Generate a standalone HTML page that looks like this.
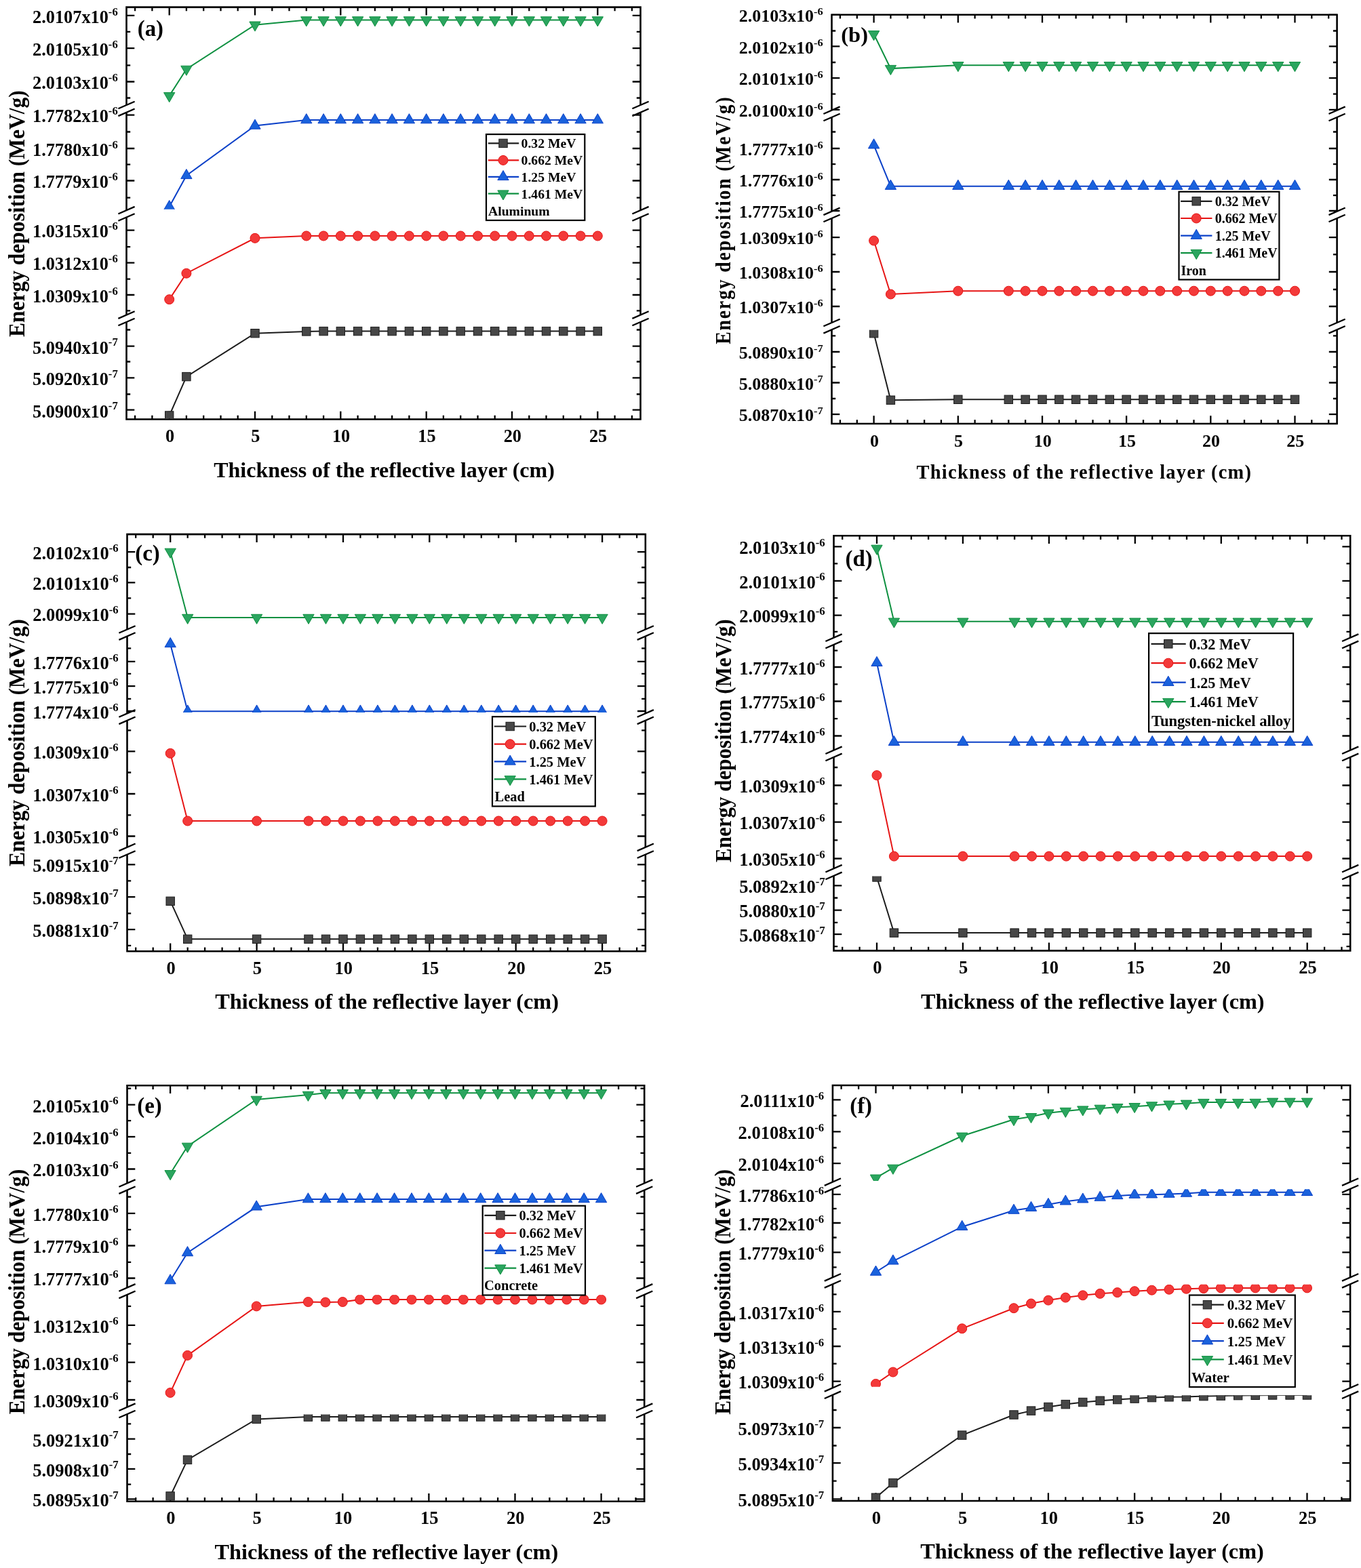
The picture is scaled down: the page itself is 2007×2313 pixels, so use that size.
<!DOCTYPE html>
<html lang="en"><head><meta charset="utf-8"><title>Energy deposition vs. thickness of the reflective layer</title>
<style>
html,body{margin:0;padding:0;background:#fff}
body{width:2007px;height:2313px;overflow:hidden}
svg{display:block;font-family:"Liberation Serif",serif;font-weight:bold;fill:#000}
</style></head><body>
<svg width="2007" height="2313" viewBox="0 0 2007 2313">
<defs>
<rect id="mk" x="-6.2" y="-6.2" width="12.4" height="12.4" stroke-width="1"/>
<circle id="mr" r="7" stroke-width="1"/>
<path id="mb" d="M0 -9.4L8.15 4.7H-8.15Z" stroke-width="1"/>
<path id="mg" d="M0 9.4L8.15 -4.7H-8.15Z" stroke-width="1"/>
</defs>
<rect width="2007" height="2313" fill="#fff"/>
<g id="panel-a">
<defs>
<clipPath id="ca0"><rect x="186.5" y="11.7" width="758" height="141.8"/></clipPath>
<clipPath id="ca1"><rect x="186.5" y="166.3" width="758" height="142.4"/></clipPath>
<clipPath id="ca2"><rect x="186.5" y="321" width="758" height="142.1"/></clipPath>
<clipPath id="ca3"><rect x="186.5" y="475.5" width="758" height="141.9"/></clipPath>
</defs>
<path d="M186.5 9.3V155M186.5 165.8V310.2M186.5 320.5V464.6M186.5 475V619.8M944.5 9.3V155M944.5 165.8V310.2M944.5 320.5V464.6M944.5 475V619.8M186.5 10.6H944.5M186.5 618.5H944.5" fill="none" stroke="#000" stroke-width="2.6"/>
<path d="M186.5 22.9h11.8M944.5 22.9h-11.8M186.5 71.1h11.8M944.5 71.1h-11.8M186.5 120.5h11.8M944.5 120.5h-11.8M186.5 169.6h11.8M944.5 169.6h-11.8M186.5 219h11.8M944.5 219h-11.8M186.5 266.5h11.8M944.5 266.5h-11.8M186.5 339.6h11.8M944.5 339.6h-11.8M186.5 387.6h11.8M944.5 387.6h-11.8M186.5 435h11.8M944.5 435h-11.8M186.5 510.7h11.8M944.5 510.7h-11.8M186.5 557.3h11.8M944.5 557.3h-11.8M186.5 604.7h11.8M944.5 604.7h-11.8M186.5 46.9h5.7M944.5 46.9h-5.7M186.5 96.3h5.7M944.5 96.3h-5.7M186.5 144.5h5.7M944.5 144.5h-5.7M186.5 194.5h5.7M944.5 194.5h-5.7M186.5 242.7h5.7M944.5 242.7h-5.7M186.5 291.6h5.7M944.5 291.6h-5.7M186.5 364.2h5.7M944.5 364.2h-5.7M186.5 411.6h5.7M944.5 411.6h-5.7M186.5 458.4h5.7M944.5 458.4h-5.7M186.5 486.5h5.7M944.5 486.5h-5.7M186.5 533.5h5.7M944.5 533.5h-5.7M186.5 581.5h5.7M944.5 581.5h-5.7M199.1 618.5v-5.7M199.1 10.6v5.7M224.4 618.5v-5.7M224.4 10.6v5.7M249.7 618.5v-11.8M249.7 10.6v11.8M274.9 618.5v-5.7M274.9 10.6v5.7M300.2 618.5v-5.7M300.2 10.6v5.7M325.5 618.5v-5.7M325.5 10.6v5.7M350.7 618.5v-5.7M350.7 10.6v5.7M376 618.5v-11.8M376 10.6v11.8M401.3 618.5v-5.7M401.3 10.6v5.7M426.5 618.5v-5.7M426.5 10.6v5.7M451.8 618.5v-5.7M451.8 10.6v5.7M477.1 618.5v-5.7M477.1 10.6v5.7M502.3 618.5v-11.8M502.3 10.6v11.8M527.6 618.5v-5.7M527.6 10.6v5.7M552.9 618.5v-5.7M552.9 10.6v5.7M578.1 618.5v-5.7M578.1 10.6v5.7M603.4 618.5v-5.7M603.4 10.6v5.7M628.7 618.5v-11.8M628.7 10.6v11.8M653.9 618.5v-5.7M653.9 10.6v5.7M679.2 618.5v-5.7M679.2 10.6v5.7M704.5 618.5v-5.7M704.5 10.6v5.7M729.7 618.5v-5.7M729.7 10.6v5.7M755 618.5v-11.8M755 10.6v11.8M780.3 618.5v-5.7M780.3 10.6v5.7M805.5 618.5v-5.7M805.5 10.6v5.7M830.8 618.5v-5.7M830.8 10.6v5.7M856.1 618.5v-5.7M856.1 10.6v5.7M881.3 618.5v-11.8M881.3 10.6v11.8M906.6 618.5v-5.7M906.6 10.6v5.7M931.9 618.5v-5.7M931.9 10.6v5.7M174.4 160.3L198.6 149.7M932.4 160.3L956.6 149.7M174.4 171.1L198.6 160.5M932.4 171.1L956.6 160.5M174.4 315.5L198.6 304.9M932.4 315.5L956.6 304.9M174.4 325.8L198.6 315.2M932.4 325.8L956.6 315.2M174.4 469.9L198.6 459.3M932.4 469.9L956.6 459.3M174.4 480.3L198.6 469.7M932.4 480.3L956.6 469.7" fill="none" stroke="#000" stroke-width="2.3"/>
<g clip-path="url(#ca0)">
<polyline points="249.7,141.3 274.9,101.9 376,36.7 451.8,29.5 477.1,29.5 502.3,29.5 527.6,29.5 552.9,29.5 578.1,29.5 603.4,29.5 628.7,29.5 653.9,29.5 679.2,29.5 704.5,29.5 729.7,29.5 755,29.5 780.3,29.5 805.5,29.5 830.8,29.5 856.1,29.5 881.3,29.5" fill="none" stroke="#0e9040" stroke-width="2"/>
<g fill="#2ba55f" stroke="#0e9040">
<use href="#mg" x="249.7" y="141.3"/>
<use href="#mg" x="274.9" y="101.9"/>
<use href="#mg" x="376" y="36.7"/>
<use href="#mg" x="451.8" y="29.5"/>
<use href="#mg" x="477.1" y="29.5"/>
<use href="#mg" x="502.3" y="29.5"/>
<use href="#mg" x="527.6" y="29.5"/>
<use href="#mg" x="552.9" y="29.5"/>
<use href="#mg" x="578.1" y="29.5"/>
<use href="#mg" x="603.4" y="29.5"/>
<use href="#mg" x="628.7" y="29.5"/>
<use href="#mg" x="653.9" y="29.5"/>
<use href="#mg" x="679.2" y="29.5"/>
<use href="#mg" x="704.5" y="29.5"/>
<use href="#mg" x="729.7" y="29.5"/>
<use href="#mg" x="755" y="29.5"/>
<use href="#mg" x="780.3" y="29.5"/>
<use href="#mg" x="805.5" y="29.5"/>
<use href="#mg" x="830.8" y="29.5"/>
<use href="#mg" x="856.1" y="29.5"/>
<use href="#mg" x="881.3" y="29.5"/>
</g></g>
<g clip-path="url(#ca1)">
<polyline points="249.7,304.9 274.9,258.9 376,185.5 451.8,177.1 477.1,177.1 502.3,177.1 527.6,177.1 552.9,177.1 578.1,177.1 603.4,177.1 628.7,177.1 653.9,177.1 679.2,177.1 704.5,177.1 729.7,177.1 755,177.1 780.3,177.1 805.5,177.1 830.8,177.1 856.1,177.1 881.3,177.1" fill="none" stroke="#0b40c8" stroke-width="2"/>
<g fill="#1a62dc" stroke="#0b40c8">
<use href="#mb" x="249.7" y="304.9"/>
<use href="#mb" x="274.9" y="258.9"/>
<use href="#mb" x="376" y="185.5"/>
<use href="#mb" x="451.8" y="177.1"/>
<use href="#mb" x="477.1" y="177.1"/>
<use href="#mb" x="502.3" y="177.1"/>
<use href="#mb" x="527.6" y="177.1"/>
<use href="#mb" x="552.9" y="177.1"/>
<use href="#mb" x="578.1" y="177.1"/>
<use href="#mb" x="603.4" y="177.1"/>
<use href="#mb" x="628.7" y="177.1"/>
<use href="#mb" x="653.9" y="177.1"/>
<use href="#mb" x="679.2" y="177.1"/>
<use href="#mb" x="704.5" y="177.1"/>
<use href="#mb" x="729.7" y="177.1"/>
<use href="#mb" x="755" y="177.1"/>
<use href="#mb" x="780.3" y="177.1"/>
<use href="#mb" x="805.5" y="177.1"/>
<use href="#mb" x="830.8" y="177.1"/>
<use href="#mb" x="856.1" y="177.1"/>
<use href="#mb" x="881.3" y="177.1"/>
</g></g>
<g clip-path="url(#ca2)">
<polyline points="249.7,441.7 274.9,403.2 376,351.3 451.8,348 477.1,348 502.3,348 527.6,348 552.9,348 578.1,348 603.4,348 628.7,348 653.9,348 679.2,348 704.5,348 729.7,348 755,348 780.3,348 805.5,348 830.8,348 856.1,348 881.3,348" fill="none" stroke="#e61414" stroke-width="2"/>
<g fill="#f33a3a" stroke="#e61414">
<use href="#mr" x="249.7" y="441.7"/>
<use href="#mr" x="274.9" y="403.2"/>
<use href="#mr" x="376" y="351.3"/>
<use href="#mr" x="451.8" y="348"/>
<use href="#mr" x="477.1" y="348"/>
<use href="#mr" x="502.3" y="348"/>
<use href="#mr" x="527.6" y="348"/>
<use href="#mr" x="552.9" y="348"/>
<use href="#mr" x="578.1" y="348"/>
<use href="#mr" x="603.4" y="348"/>
<use href="#mr" x="628.7" y="348"/>
<use href="#mr" x="653.9" y="348"/>
<use href="#mr" x="679.2" y="348"/>
<use href="#mr" x="704.5" y="348"/>
<use href="#mr" x="729.7" y="348"/>
<use href="#mr" x="755" y="348"/>
<use href="#mr" x="780.3" y="348"/>
<use href="#mr" x="805.5" y="348"/>
<use href="#mr" x="830.8" y="348"/>
<use href="#mr" x="856.1" y="348"/>
<use href="#mr" x="881.3" y="348"/>
</g></g>
<g clip-path="url(#ca3)">
<polyline points="249.7,613 274.9,555.6 376,491.7 451.8,488.9 477.1,488.6 502.3,488.6 527.6,488.6 552.9,488.6 578.1,488.6 603.4,488.6 628.7,488.6 653.9,488.6 679.2,488.6 704.5,488.6 729.7,488.6 755,488.6 780.3,488.6 805.5,488.6 830.8,488.6 856.1,488.6 881.3,488.6" fill="none" stroke="#1c1c1c" stroke-width="2"/>
<g fill="#474747" stroke="#1c1c1c">
<use href="#mk" x="249.7" y="613"/>
<use href="#mk" x="274.9" y="555.6"/>
<use href="#mk" x="376" y="491.7"/>
<use href="#mk" x="451.8" y="488.9"/>
<use href="#mk" x="477.1" y="488.6"/>
<use href="#mk" x="502.3" y="488.6"/>
<use href="#mk" x="527.6" y="488.6"/>
<use href="#mk" x="552.9" y="488.6"/>
<use href="#mk" x="578.1" y="488.6"/>
<use href="#mk" x="603.4" y="488.6"/>
<use href="#mk" x="628.7" y="488.6"/>
<use href="#mk" x="653.9" y="488.6"/>
<use href="#mk" x="679.2" y="488.6"/>
<use href="#mk" x="704.5" y="488.6"/>
<use href="#mk" x="729.7" y="488.6"/>
<use href="#mk" x="755" y="488.6"/>
<use href="#mk" x="780.3" y="488.6"/>
<use href="#mk" x="805.5" y="488.6"/>
<use href="#mk" x="830.8" y="488.6"/>
<use href="#mk" x="856.1" y="488.6"/>
<use href="#mk" x="881.3" y="488.6"/>
</g></g>
<g font-size="26.3" text-anchor="end">
<text x="173.7" y="33.7">2.0107x10<tspan font-size="16.6" dy="-11.2">-6</tspan></text>
<text x="173.7" y="81.9">2.0105x10<tspan font-size="16.6" dy="-11.2">-6</tspan></text>
<text x="173.7" y="131.3">2.0103x10<tspan font-size="16.6" dy="-11.2">-6</tspan></text>
<text x="173.7" y="180.4">1.7782x10<tspan font-size="16.6" dy="-11.2">-6</tspan></text>
<text x="173.7" y="229.8">1.7780x10<tspan font-size="16.6" dy="-11.2">-6</tspan></text>
<text x="173.7" y="277.3">1.7779x10<tspan font-size="16.6" dy="-11.2">-6</tspan></text>
<text x="173.7" y="350.4">1.0315x10<tspan font-size="16.6" dy="-11.2">-6</tspan></text>
<text x="173.7" y="398.4">1.0312x10<tspan font-size="16.6" dy="-11.2">-6</tspan></text>
<text x="173.7" y="445.8">1.0309x10<tspan font-size="16.6" dy="-11.2">-6</tspan></text>
<text x="173.7" y="521.5">5.0940x10<tspan font-size="16.6" dy="-11.2">-7</tspan></text>
<text x="173.7" y="568.1">5.0920x10<tspan font-size="16.6" dy="-11.2">-7</tspan></text>
<text x="173.7" y="615.5">5.0900x10<tspan font-size="16.6" dy="-11.2">-7</tspan></text>
</g>
<g font-size="26.3" text-anchor="middle">
<text x="250.5" y="652">0</text>
<text x="376.8" y="652">5</text>
<text x="503.1" y="652">10</text>
<text x="629.5" y="652">15</text>
<text x="755.8" y="652">20</text>
<text x="882.1" y="652">25</text>
</g>
<text x="566.5" y="703.7" font-size="32.0" text-anchor="middle">Thickness of the reflective layer (cm)</text>
<text transform="translate(35.6 315.2) rotate(-90) scale(0.963 1)" font-size="32.7" text-anchor="middle">Energy deposition (MeV/g)</text>
<text x="202.7" y="53.3" font-size="32.9">(a)</text>
<rect x="717" y="198.1" width="145.3" height="126.9" fill="#fff" stroke="#000" stroke-width="2.2"/>
<g font-size="19.67">
<path d="M719.8 211.4H765.2" stroke="#1c1c1c" stroke-width="2.2"/><use href="#mk" x="742" y="211.4" fill="#474747" stroke="#1c1c1c"/>
<text x="768.6" y="218.4">0.32 MeV</text>
<path d="M719.8 236.4H765.2" stroke="#e61414" stroke-width="2.2"/><use href="#mr" x="742" y="236.4" fill="#f33a3a" stroke="#e61414"/>
<text x="768.6" y="243.4">0.662 MeV</text>
<path d="M719.8 260.9H765.2" stroke="#0b40c8" stroke-width="2.2"/><use href="#mb" x="742" y="260.9" fill="#1a62dc" stroke="#0b40c8"/>
<text x="768.6" y="267.9">1.25 MeV</text>
<path d="M719.8 285.6H765.2" stroke="#0e9040" stroke-width="2.2"/><use href="#mg" x="742" y="285.6" fill="#2ba55f" stroke="#0e9040"/>
<text x="768.6" y="292.6">1.461 MeV</text>
<text x="720" y="317.5" font-size="19.67">Aluminum</text>
</g>
</g>
<g id="panel-b">
<defs>
<clipPath id="cb0"><rect x="1226.5" y="22.9" width="745.1" height="138.3"/></clipPath>
<clipPath id="cb1"><rect x="1226.5" y="173.5" width="745.1" height="136.8"/></clipPath>
<clipPath id="cb2"><rect x="1226.5" y="322.5" width="745.1" height="152"/></clipPath>
<clipPath id="cb3"><rect x="1226.5" y="486.8" width="745.1" height="137.1"/></clipPath>
</defs>
<path d="M1226.5 20.5V162.7M1226.5 173V311.8M1226.5 322V476M1226.5 486.3V626.3M1971.6 20.5V162.7M1971.6 173V311.8M1971.6 322V476M1971.6 486.3V626.3M1226.5 21.8H1971.6M1226.5 625H1971.6" fill="none" stroke="#000" stroke-width="2.6"/>
<path d="M1226.5 21.8h11.8M1971.6 21.8h-11.8M1226.5 68.4h11.8M1971.6 68.4h-11.8M1226.5 115.2h11.8M1971.6 115.2h-11.8M1226.5 161.8h11.8M1971.6 161.8h-11.8M1226.5 219h11.8M1971.6 219h-11.8M1226.5 265h11.8M1971.6 265h-11.8M1226.5 311h11.8M1971.6 311h-11.8M1226.5 350.2h11.8M1971.6 350.2h-11.8M1226.5 401h11.8M1971.6 401h-11.8M1226.5 452h11.8M1971.6 452h-11.8M1226.5 519h11.8M1971.6 519h-11.8M1226.5 564.5h11.8M1971.6 564.5h-11.8M1226.5 611.1h11.8M1971.6 611.1h-11.8M1226.5 45.5h5.7M1971.6 45.5h-5.7M1226.5 92h5.7M1971.6 92h-5.7M1226.5 138.7h5.7M1971.6 138.7h-5.7M1226.5 194.5h5.7M1971.6 194.5h-5.7M1226.5 242.2h5.7M1971.6 242.2h-5.7M1226.5 288.2h5.7M1971.6 288.2h-5.7M1226.5 375.3h5.7M1971.6 375.3h-5.7M1226.5 427h5.7M1971.6 427h-5.7M1226.5 495.3h5.7M1971.6 495.3h-5.7M1226.5 541.3h5.7M1971.6 541.3h-5.7M1226.5 588h5.7M1971.6 588h-5.7M1238.9 625v-5.7M1238.9 21.8v5.7M1263.8 625v-5.7M1263.8 21.8v5.7M1288.6 625v-11.8M1288.6 21.8v11.8M1313.4 625v-5.7M1313.4 21.8v5.7M1338.3 625v-5.7M1338.3 21.8v5.7M1363.1 625v-5.7M1363.1 21.8v5.7M1387.9 625v-5.7M1387.9 21.8v5.7M1412.8 625v-11.8M1412.8 21.8v11.8M1437.6 625v-5.7M1437.6 21.8v5.7M1462.4 625v-5.7M1462.4 21.8v5.7M1487.3 625v-5.7M1487.3 21.8v5.7M1512.1 625v-5.7M1512.1 21.8v5.7M1537 625v-11.8M1537 21.8v11.8M1561.8 625v-5.7M1561.8 21.8v5.7M1586.6 625v-5.7M1586.6 21.8v5.7M1611.5 625v-5.7M1611.5 21.8v5.7M1636.3 625v-5.7M1636.3 21.8v5.7M1661.1 625v-11.8M1661.1 21.8v11.8M1686 625v-5.7M1686 21.8v5.7M1710.8 625v-5.7M1710.8 21.8v5.7M1735.7 625v-5.7M1735.7 21.8v5.7M1760.5 625v-5.7M1760.5 21.8v5.7M1785.3 625v-11.8M1785.3 21.8v11.8M1810.2 625v-5.7M1810.2 21.8v5.7M1835 625v-5.7M1835 21.8v5.7M1859.8 625v-5.7M1859.8 21.8v5.7M1884.7 625v-5.7M1884.7 21.8v5.7M1909.5 625v-11.8M1909.5 21.8v11.8M1934.3 625v-5.7M1934.3 21.8v5.7M1959.2 625v-5.7M1959.2 21.8v5.7M1214.4 168L1238.6 157.4M1959.5 168L1983.7 157.4M1214.4 178.3L1238.6 167.7M1959.5 178.3L1983.7 167.7M1214.4 317.1L1238.6 306.5M1959.5 317.1L1983.7 306.5M1214.4 327.3L1238.6 316.7M1959.5 327.3L1983.7 316.7M1214.4 481.3L1238.6 470.7M1959.5 481.3L1983.7 470.7M1214.4 491.6L1238.6 481M1959.5 491.6L1983.7 481" fill="none" stroke="#000" stroke-width="2.3"/>
<g clip-path="url(#cb0)">
<polyline points="1288.6,50.3 1313.4,101.1 1412.8,96.3 1487.3,96.3 1512.1,96.3 1537,96.3 1561.8,96.3 1586.6,96.3 1611.5,96.3 1636.3,96.3 1661.1,96.3 1686,96.3 1710.8,96.3 1735.7,96.3 1760.5,96.3 1785.3,96.3 1810.2,96.3 1835,96.3 1859.8,96.3 1884.7,96.3 1909.5,96.3" fill="none" stroke="#0e9040" stroke-width="2"/>
<g fill="#2ba55f" stroke="#0e9040">
<use href="#mg" x="1288.6" y="50.3"/>
<use href="#mg" x="1313.4" y="101.1"/>
<use href="#mg" x="1412.8" y="96.3"/>
<use href="#mg" x="1487.3" y="96.3"/>
<use href="#mg" x="1512.1" y="96.3"/>
<use href="#mg" x="1537" y="96.3"/>
<use href="#mg" x="1561.8" y="96.3"/>
<use href="#mg" x="1586.6" y="96.3"/>
<use href="#mg" x="1611.5" y="96.3"/>
<use href="#mg" x="1636.3" y="96.3"/>
<use href="#mg" x="1661.1" y="96.3"/>
<use href="#mg" x="1686" y="96.3"/>
<use href="#mg" x="1710.8" y="96.3"/>
<use href="#mg" x="1735.7" y="96.3"/>
<use href="#mg" x="1760.5" y="96.3"/>
<use href="#mg" x="1785.3" y="96.3"/>
<use href="#mg" x="1810.2" y="96.3"/>
<use href="#mg" x="1835" y="96.3"/>
<use href="#mg" x="1859.8" y="96.3"/>
<use href="#mg" x="1884.7" y="96.3"/>
<use href="#mg" x="1909.5" y="96.3"/>
</g></g>
<g clip-path="url(#cb1)">
<polyline points="1288.6,214.2 1313.4,274.7 1412.8,274.7 1487.3,274.7 1512.1,274.7 1537,274.7 1561.8,274.7 1586.6,274.7 1611.5,274.7 1636.3,274.7 1661.1,274.7 1686,274.7 1710.8,274.7 1735.7,274.7 1760.5,274.7 1785.3,274.7 1810.2,274.7 1835,274.7 1859.8,274.7 1884.7,274.7 1909.5,274.7" fill="none" stroke="#0b40c8" stroke-width="2"/>
<g fill="#1a62dc" stroke="#0b40c8">
<use href="#mb" x="1288.6" y="214.2"/>
<use href="#mb" x="1313.4" y="274.7"/>
<use href="#mb" x="1412.8" y="274.7"/>
<use href="#mb" x="1487.3" y="274.7"/>
<use href="#mb" x="1512.1" y="274.7"/>
<use href="#mb" x="1537" y="274.7"/>
<use href="#mb" x="1561.8" y="274.7"/>
<use href="#mb" x="1586.6" y="274.7"/>
<use href="#mb" x="1611.5" y="274.7"/>
<use href="#mb" x="1636.3" y="274.7"/>
<use href="#mb" x="1661.1" y="274.7"/>
<use href="#mb" x="1686" y="274.7"/>
<use href="#mb" x="1710.8" y="274.7"/>
<use href="#mb" x="1735.7" y="274.7"/>
<use href="#mb" x="1760.5" y="274.7"/>
<use href="#mb" x="1785.3" y="274.7"/>
<use href="#mb" x="1810.2" y="274.7"/>
<use href="#mb" x="1835" y="274.7"/>
<use href="#mb" x="1859.8" y="274.7"/>
<use href="#mb" x="1884.7" y="274.7"/>
<use href="#mb" x="1909.5" y="274.7"/>
</g></g>
<g clip-path="url(#cb2)">
<polyline points="1288.6,355 1313.4,434 1412.8,429.2 1487.3,429.2 1512.1,429.2 1537,429.2 1561.8,429.2 1586.6,429.2 1611.5,429.2 1636.3,429.2 1661.1,429.2 1686,429.2 1710.8,429.2 1735.7,429.2 1760.5,429.2 1785.3,429.2 1810.2,429.2 1835,429.2 1859.8,429.2 1884.7,429.2 1909.5,429.2" fill="none" stroke="#e61414" stroke-width="2"/>
<g fill="#f33a3a" stroke="#e61414">
<use href="#mr" x="1288.6" y="355"/>
<use href="#mr" x="1313.4" y="434"/>
<use href="#mr" x="1412.8" y="429.2"/>
<use href="#mr" x="1487.3" y="429.2"/>
<use href="#mr" x="1512.1" y="429.2"/>
<use href="#mr" x="1537" y="429.2"/>
<use href="#mr" x="1561.8" y="429.2"/>
<use href="#mr" x="1586.6" y="429.2"/>
<use href="#mr" x="1611.5" y="429.2"/>
<use href="#mr" x="1636.3" y="429.2"/>
<use href="#mr" x="1661.1" y="429.2"/>
<use href="#mr" x="1686" y="429.2"/>
<use href="#mr" x="1710.8" y="429.2"/>
<use href="#mr" x="1735.7" y="429.2"/>
<use href="#mr" x="1760.5" y="429.2"/>
<use href="#mr" x="1785.3" y="429.2"/>
<use href="#mr" x="1810.2" y="429.2"/>
<use href="#mr" x="1835" y="429.2"/>
<use href="#mr" x="1859.8" y="429.2"/>
<use href="#mr" x="1884.7" y="429.2"/>
<use href="#mr" x="1909.5" y="429.2"/>
</g></g>
<g clip-path="url(#cb3)">
<polyline points="1288.6,491.7 1313.4,590.2 1412.8,589.3 1487.3,589.3 1512.1,589.3 1537,589.3 1561.8,589.3 1586.6,589.3 1611.5,589.3 1636.3,589.3 1661.1,589.3 1686,589.3 1710.8,589.3 1735.7,589.3 1760.5,589.3 1785.3,589.3 1810.2,589.3 1835,589.3 1859.8,589.3 1884.7,589.3 1909.5,589.3" fill="none" stroke="#1c1c1c" stroke-width="2"/>
<g fill="#474747" stroke="#1c1c1c">
<use href="#mk" x="1288.6" y="491.7"/>
<use href="#mk" x="1313.4" y="590.2"/>
<use href="#mk" x="1412.8" y="589.3"/>
<use href="#mk" x="1487.3" y="589.3"/>
<use href="#mk" x="1512.1" y="589.3"/>
<use href="#mk" x="1537" y="589.3"/>
<use href="#mk" x="1561.8" y="589.3"/>
<use href="#mk" x="1586.6" y="589.3"/>
<use href="#mk" x="1611.5" y="589.3"/>
<use href="#mk" x="1636.3" y="589.3"/>
<use href="#mk" x="1661.1" y="589.3"/>
<use href="#mk" x="1686" y="589.3"/>
<use href="#mk" x="1710.8" y="589.3"/>
<use href="#mk" x="1735.7" y="589.3"/>
<use href="#mk" x="1760.5" y="589.3"/>
<use href="#mk" x="1785.3" y="589.3"/>
<use href="#mk" x="1810.2" y="589.3"/>
<use href="#mk" x="1835" y="589.3"/>
<use href="#mk" x="1859.8" y="589.3"/>
<use href="#mk" x="1884.7" y="589.3"/>
<use href="#mk" x="1909.5" y="589.3"/>
</g></g>
<g font-size="25.96" text-anchor="end">
<text transform="translate(1213.7 32) scale(1 0.93)">2.0103x10<tspan font-size="16.38" dy="-11.2">-6</tspan></text>
<text transform="translate(1213.7 78.6) scale(1 0.93)">2.0102x10<tspan font-size="16.38" dy="-11.2">-6</tspan></text>
<text transform="translate(1213.7 125.4) scale(1 0.93)">2.0101x10<tspan font-size="16.38" dy="-11.2">-6</tspan></text>
<text transform="translate(1213.7 172) scale(1 0.93)">2.0100x10<tspan font-size="16.38" dy="-11.2">-6</tspan></text>
<text transform="translate(1213.7 229.2) scale(1 0.93)">1.7777x10<tspan font-size="16.38" dy="-11.2">-6</tspan></text>
<text transform="translate(1213.7 275.2) scale(1 0.93)">1.7776x10<tspan font-size="16.38" dy="-11.2">-6</tspan></text>
<text transform="translate(1213.7 321.2) scale(1 0.93)">1.7775x10<tspan font-size="16.38" dy="-11.2">-6</tspan></text>
<text transform="translate(1213.7 360.4) scale(1 0.93)">1.0309x10<tspan font-size="16.38" dy="-11.2">-6</tspan></text>
<text transform="translate(1213.7 411.2) scale(1 0.93)">1.0308x10<tspan font-size="16.38" dy="-11.2">-6</tspan></text>
<text transform="translate(1213.7 462.2) scale(1 0.93)">1.0307x10<tspan font-size="16.38" dy="-11.2">-6</tspan></text>
<text transform="translate(1213.7 529.2) scale(1 0.93)">5.0890x10<tspan font-size="16.38" dy="-11.2">-7</tspan></text>
<text transform="translate(1213.7 574.7) scale(1 0.93)">5.0880x10<tspan font-size="16.38" dy="-11.2">-7</tspan></text>
<text transform="translate(1213.7 621.3) scale(1 0.93)">5.0870x10<tspan font-size="16.38" dy="-11.2">-7</tspan></text>
</g>
<g font-size="25.96" text-anchor="middle">
<text x="1289.4" y="658.5">0</text>
<text x="1413.6" y="658.5">5</text>
<text x="1537.8" y="658.5">10</text>
<text x="1661.9" y="658.5">15</text>
<text x="1786.1" y="658.5">20</text>
<text x="1910.3" y="658.5">25</text>
</g>
<text x="1598.9" y="705.5" font-size="28.4" letter-spacing="1.28" text-anchor="middle">Thickness of the reflective layer (cm)</text>
<text transform="translate(1076.9 324.6) rotate(-90) scale(0.85 1)" font-size="32.5" letter-spacing="2.23" text-anchor="middle">Energy deposition (MeV/g)</text>
<text x="1240.3" y="62.1" font-size="32.5">(b)</text>
<rect x="1738.5" y="282.8" width="147.9" height="129.7" fill="#fff" stroke="#000" stroke-width="2.2"/>
<g font-size="19.93">
<path d="M1741.1 296.8H1787.4" stroke="#1c1c1c" stroke-width="2.2"/><use href="#mk" x="1764.2" y="296.8" fill="#474747" stroke="#1c1c1c"/>
<text x="1791.7" y="303.9">0.32 MeV</text>
<path d="M1741.1 322H1787.4" stroke="#e61414" stroke-width="2.2"/><use href="#mr" x="1764.2" y="322" fill="#f33a3a" stroke="#e61414"/>
<text x="1791.7" y="329.1">0.662 MeV</text>
<path d="M1741.1 347.7H1787.4" stroke="#0b40c8" stroke-width="2.2"/><use href="#mb" x="1764.2" y="347.7" fill="#1a62dc" stroke="#0b40c8"/>
<text x="1791.7" y="354.8">1.25 MeV</text>
<path d="M1741.1 373.1H1787.4" stroke="#0e9040" stroke-width="2.2"/><use href="#mg" x="1764.2" y="373.1" fill="#2ba55f" stroke="#0e9040"/>
<text x="1791.7" y="380.2">1.461 MeV</text>
<text x="1741.5" y="405.6" font-size="19.93">Iron</text>
</g>
</g>
<g id="panel-c">
<defs>
<clipPath id="cc0"><rect x="187.5" y="789.2" width="764.3" height="137.8"/></clipPath>
<clipPath id="cc1"><rect x="187.5" y="939.1" width="764.3" height="111.8"/></clipPath>
<clipPath id="cc2"><rect x="187.5" y="1063.3" width="764.3" height="185"/></clipPath>
<clipPath id="cc3"><rect x="187.5" y="1261" width="764.3" height="141.1"/></clipPath>
</defs>
<path d="M187.5 786.8V928.5M187.5 938.6V1052.4M187.5 1062.8V1249.8M187.5 1260.5V1404.5M951.8 786.8V928.5M951.8 938.6V1052.4M951.8 1062.8V1249.8M951.8 1260.5V1404.5M187.5 788.1H951.8M187.5 1403.2H951.8" fill="none" stroke="#000" stroke-width="2.6"/>
<path d="M187.5 814.1h11.8M951.8 814.1h-11.8M187.5 859.3h11.8M951.8 859.3h-11.8M187.5 905.6h11.8M951.8 905.6h-11.8M187.5 975.9h11.8M951.8 975.9h-11.8M187.5 1012.2h11.8M951.8 1012.2h-11.8M187.5 1049h11.8M951.8 1049h-11.8M187.5 1108.3h11.8M951.8 1108.3h-11.8M187.5 1171h11.8M951.8 1171h-11.8M187.5 1233.5h11.8M951.8 1233.5h-11.8M187.5 1275.4h11.8M951.8 1275.4h-11.8M187.5 1323.1h11.8M951.8 1323.1h-11.8M187.5 1371.1h11.8M951.8 1371.1h-11.8M187.5 837h5.7M951.8 837h-5.7M187.5 882.4h5.7M951.8 882.4h-5.7M187.5 956.4h5.7M951.8 956.4h-5.7M187.5 993.8h5.7M951.8 993.8h-5.7M187.5 1030.9h5.7M951.8 1030.9h-5.7M187.5 1077.3h5.7M951.8 1077.3h-5.7M187.5 1139.5h5.7M951.8 1139.5h-5.7M187.5 1202.3h5.7M951.8 1202.3h-5.7M187.5 1299.4h5.7M951.8 1299.4h-5.7M187.5 1347.4h5.7M951.8 1347.4h-5.7M187.5 1394.8h5.7M951.8 1394.8h-5.7M200.2 1403.2v-5.7M200.2 788.1v5.7M225.7 1403.2v-5.7M225.7 788.1v5.7M251.2 1403.2v-11.8M251.2 788.1v11.8M276.7 1403.2v-5.7M276.7 788.1v5.7M302.1 1403.2v-5.7M302.1 788.1v5.7M327.6 1403.2v-5.7M327.6 788.1v5.7M353.1 1403.2v-5.7M353.1 788.1v5.7M378.6 1403.2v-11.8M378.6 788.1v11.8M404.1 1403.2v-5.7M404.1 788.1v5.7M429.5 1403.2v-5.7M429.5 788.1v5.7M455 1403.2v-5.7M455 788.1v5.7M480.5 1403.2v-5.7M480.5 788.1v5.7M506 1403.2v-11.8M506 788.1v11.8M531.4 1403.2v-5.7M531.4 788.1v5.7M556.9 1403.2v-5.7M556.9 788.1v5.7M582.4 1403.2v-5.7M582.4 788.1v5.7M607.9 1403.2v-5.7M607.9 788.1v5.7M633.3 1403.2v-11.8M633.3 788.1v11.8M658.8 1403.2v-5.7M658.8 788.1v5.7M684.3 1403.2v-5.7M684.3 788.1v5.7M709.8 1403.2v-5.7M709.8 788.1v5.7M735.2 1403.2v-5.7M735.2 788.1v5.7M760.7 1403.2v-11.8M760.7 788.1v11.8M786.2 1403.2v-5.7M786.2 788.1v5.7M811.7 1403.2v-5.7M811.7 788.1v5.7M837.2 1403.2v-5.7M837.2 788.1v5.7M862.6 1403.2v-5.7M862.6 788.1v5.7M888.1 1403.2v-11.8M888.1 788.1v11.8M913.6 1403.2v-5.7M913.6 788.1v5.7M939.1 1403.2v-5.7M939.1 788.1v5.7M175.4 933.8L199.6 923.2M939.7 933.8L963.9 923.2M175.4 943.9L199.6 933.3M939.7 943.9L963.9 933.3M175.4 1057.7L199.6 1047.1M939.7 1057.7L963.9 1047.1M175.4 1068.1L199.6 1057.5M939.7 1068.1L963.9 1057.5M175.4 1255.1L199.6 1244.5M939.7 1255.1L963.9 1244.5M175.4 1265.8L199.6 1255.2M939.7 1265.8L963.9 1255.2" fill="none" stroke="#000" stroke-width="2.3"/>
<g clip-path="url(#cc0)">
<polyline points="251.2,813.9 276.7,911 378.6,911 455,911 480.5,911 506,911 531.4,911 556.9,911 582.4,911 607.9,911 633.3,911 658.8,911 684.3,911 709.8,911 735.2,911 760.7,911 786.2,911 811.7,911 837.2,911 862.6,911 888.1,911" fill="none" stroke="#0e9040" stroke-width="2"/>
<g fill="#2ba55f" stroke="#0e9040">
<use href="#mg" x="251.2" y="813.9"/>
<use href="#mg" x="276.7" y="911"/>
<use href="#mg" x="378.6" y="911"/>
<use href="#mg" x="455" y="911"/>
<use href="#mg" x="480.5" y="911"/>
<use href="#mg" x="506" y="911"/>
<use href="#mg" x="531.4" y="911"/>
<use href="#mg" x="556.9" y="911"/>
<use href="#mg" x="582.4" y="911"/>
<use href="#mg" x="607.9" y="911"/>
<use href="#mg" x="633.3" y="911"/>
<use href="#mg" x="658.8" y="911"/>
<use href="#mg" x="684.3" y="911"/>
<use href="#mg" x="709.8" y="911"/>
<use href="#mg" x="735.2" y="911"/>
<use href="#mg" x="760.7" y="911"/>
<use href="#mg" x="786.2" y="911"/>
<use href="#mg" x="811.7" y="911"/>
<use href="#mg" x="837.2" y="911"/>
<use href="#mg" x="862.6" y="911"/>
<use href="#mg" x="888.1" y="911"/>
</g></g>
<g clip-path="url(#cc1)">
<polyline points="251.2,949.9 276.7,1049.3 378.6,1049.3 455,1049.3 480.5,1049.3 506,1049.3 531.4,1049.3 556.9,1049.3 582.4,1049.3 607.9,1049.3 633.3,1049.3 658.8,1049.3 684.3,1049.3 709.8,1049.3 735.2,1049.3 760.7,1049.3 786.2,1049.3 811.7,1049.3 837.2,1049.3 862.6,1049.3 888.1,1049.3" fill="none" stroke="#0b40c8" stroke-width="2"/>
<g fill="#1a62dc" stroke="#0b40c8">
<use href="#mb" x="251.2" y="949.9"/>
<use href="#mb" x="276.7" y="1049.3"/>
<use href="#mb" x="378.6" y="1049.3"/>
<use href="#mb" x="455" y="1049.3"/>
<use href="#mb" x="480.5" y="1049.3"/>
<use href="#mb" x="506" y="1049.3"/>
<use href="#mb" x="531.4" y="1049.3"/>
<use href="#mb" x="556.9" y="1049.3"/>
<use href="#mb" x="582.4" y="1049.3"/>
<use href="#mb" x="607.9" y="1049.3"/>
<use href="#mb" x="633.3" y="1049.3"/>
<use href="#mb" x="658.8" y="1049.3"/>
<use href="#mb" x="684.3" y="1049.3"/>
<use href="#mb" x="709.8" y="1049.3"/>
<use href="#mb" x="735.2" y="1049.3"/>
<use href="#mb" x="760.7" y="1049.3"/>
<use href="#mb" x="786.2" y="1049.3"/>
<use href="#mb" x="811.7" y="1049.3"/>
<use href="#mb" x="837.2" y="1049.3"/>
<use href="#mb" x="862.6" y="1049.3"/>
<use href="#mb" x="888.1" y="1049.3"/>
</g></g>
<g clip-path="url(#cc2)">
<polyline points="251.2,1111.3 276.7,1211 378.6,1211 455,1211 480.5,1211 506,1211 531.4,1211 556.9,1211 582.4,1211 607.9,1211 633.3,1211 658.8,1211 684.3,1211 709.8,1211 735.2,1211 760.7,1211 786.2,1211 811.7,1211 837.2,1211 862.6,1211 888.1,1211" fill="none" stroke="#e61414" stroke-width="2"/>
<g fill="#f33a3a" stroke="#e61414">
<use href="#mr" x="251.2" y="1111.3"/>
<use href="#mr" x="276.7" y="1211"/>
<use href="#mr" x="378.6" y="1211"/>
<use href="#mr" x="455" y="1211"/>
<use href="#mr" x="480.5" y="1211"/>
<use href="#mr" x="506" y="1211"/>
<use href="#mr" x="531.4" y="1211"/>
<use href="#mr" x="556.9" y="1211"/>
<use href="#mr" x="582.4" y="1211"/>
<use href="#mr" x="607.9" y="1211"/>
<use href="#mr" x="633.3" y="1211"/>
<use href="#mr" x="658.8" y="1211"/>
<use href="#mr" x="684.3" y="1211"/>
<use href="#mr" x="709.8" y="1211"/>
<use href="#mr" x="735.2" y="1211"/>
<use href="#mr" x="760.7" y="1211"/>
<use href="#mr" x="786.2" y="1211"/>
<use href="#mr" x="811.7" y="1211"/>
<use href="#mr" x="837.2" y="1211"/>
<use href="#mr" x="862.6" y="1211"/>
<use href="#mr" x="888.1" y="1211"/>
</g></g>
<g clip-path="url(#cc3)">
<polyline points="251.2,1329.3 276.7,1385.3 378.6,1385.3 455,1385.3 480.5,1385.3 506,1385.3 531.4,1385.3 556.9,1385.3 582.4,1385.3 607.9,1385.3 633.3,1385.3 658.8,1385.3 684.3,1385.3 709.8,1385.3 735.2,1385.3 760.7,1385.3 786.2,1385.3 811.7,1385.3 837.2,1385.3 862.6,1385.3 888.1,1385.3" fill="none" stroke="#1c1c1c" stroke-width="2"/>
<g fill="#474747" stroke="#1c1c1c">
<use href="#mk" x="251.2" y="1329.3"/>
<use href="#mk" x="276.7" y="1385.3"/>
<use href="#mk" x="378.6" y="1385.3"/>
<use href="#mk" x="455" y="1385.3"/>
<use href="#mk" x="480.5" y="1385.3"/>
<use href="#mk" x="506" y="1385.3"/>
<use href="#mk" x="531.4" y="1385.3"/>
<use href="#mk" x="556.9" y="1385.3"/>
<use href="#mk" x="582.4" y="1385.3"/>
<use href="#mk" x="607.9" y="1385.3"/>
<use href="#mk" x="633.3" y="1385.3"/>
<use href="#mk" x="658.8" y="1385.3"/>
<use href="#mk" x="684.3" y="1385.3"/>
<use href="#mk" x="709.8" y="1385.3"/>
<use href="#mk" x="735.2" y="1385.3"/>
<use href="#mk" x="760.7" y="1385.3"/>
<use href="#mk" x="786.2" y="1385.3"/>
<use href="#mk" x="811.7" y="1385.3"/>
<use href="#mk" x="837.2" y="1385.3"/>
<use href="#mk" x="862.6" y="1385.3"/>
<use href="#mk" x="888.1" y="1385.3"/>
</g></g>
<g font-size="26.51" text-anchor="end">
<text x="174.7" y="824.9">2.0102x10<tspan font-size="16.73" dy="-11.2">-6</tspan></text>
<text x="174.7" y="870.1">2.0101x10<tspan font-size="16.73" dy="-11.2">-6</tspan></text>
<text x="174.7" y="916.4">2.0099x10<tspan font-size="16.73" dy="-11.2">-6</tspan></text>
<text x="174.7" y="986.7">1.7776x10<tspan font-size="16.73" dy="-11.2">-6</tspan></text>
<text x="174.7" y="1023">1.7775x10<tspan font-size="16.73" dy="-11.2">-6</tspan></text>
<text x="174.7" y="1059.8">1.7774x10<tspan font-size="16.73" dy="-11.2">-6</tspan></text>
<text x="174.7" y="1119.1">1.0309x10<tspan font-size="16.73" dy="-11.2">-6</tspan></text>
<text x="174.7" y="1181.8">1.0307x10<tspan font-size="16.73" dy="-11.2">-6</tspan></text>
<text x="174.7" y="1244.3">1.0305x10<tspan font-size="16.73" dy="-11.2">-6</tspan></text>
<text x="174.7" y="1286.2">5.0915x10<tspan font-size="16.73" dy="-11.2">-7</tspan></text>
<text x="174.7" y="1333.9">5.0898x10<tspan font-size="16.73" dy="-11.2">-7</tspan></text>
<text x="174.7" y="1381.9">5.0881x10<tspan font-size="16.73" dy="-11.2">-7</tspan></text>
</g>
<g font-size="26.51" text-anchor="middle">
<text x="252" y="1436.7">0</text>
<text x="379.4" y="1436.7">5</text>
<text x="506.8" y="1436.7">10</text>
<text x="634.1" y="1436.7">15</text>
<text x="761.5" y="1436.7">20</text>
<text x="888.9" y="1436.7">25</text>
</g>
<text x="570.6" y="1488.4" font-size="32.26" text-anchor="middle">Thickness of the reflective layer (cm)</text>
<text transform="translate(35.6 1095.7) rotate(-90) scale(0.966 1)" font-size="32.7" text-anchor="middle">Energy deposition (MeV/g)</text>
<text x="199.3" y="827.4" font-size="32.9">(c)</text>
<rect x="726" y="1057.2" width="151.8" height="132.2" fill="#fff" stroke="#000" stroke-width="2.2"/>
<g font-size="20.44">
<path d="M728.8 1071.5H776.1" stroke="#1c1c1c" stroke-width="2.2"/><use href="#mk" x="752.2" y="1071.5" fill="#474747" stroke="#1c1c1c"/>
<text x="780.3" y="1078.8">0.32 MeV</text>
<path d="M728.8 1097.7H776.1" stroke="#e61414" stroke-width="2.2"/><use href="#mr" x="752.2" y="1097.7" fill="#f33a3a" stroke="#e61414"/>
<text x="780.3" y="1105">0.662 MeV</text>
<path d="M728.8 1123.4H776.1" stroke="#0b40c8" stroke-width="2.2"/><use href="#mb" x="752.2" y="1123.4" fill="#1a62dc" stroke="#0b40c8"/>
<text x="780.3" y="1130.7">1.25 MeV</text>
<path d="M728.8 1149.4H776.1" stroke="#0e9040" stroke-width="2.2"/><use href="#mg" x="752.2" y="1149.4" fill="#2ba55f" stroke="#0e9040"/>
<text x="780.3" y="1156.7">1.461 MeV</text>
<text x="729.6" y="1181.8" font-size="20.44">Lead</text>
</g>
</g>
<g id="panel-d">
<defs>
<clipPath id="cd0"><rect x="1229.5" y="791.4" width="761.7" height="147.8"/></clipPath>
<clipPath id="cd1"><rect x="1229.5" y="951.4" width="761.7" height="153.8"/></clipPath>
<clipPath id="cd2"><rect x="1229.5" y="1117.4" width="761.7" height="162.3"/></clipPath>
<clipPath id="cd3"><rect x="1229.5" y="1292.4" width="761.7" height="108.9"/></clipPath>
</defs>
<path d="M1229.5 789V940.7M1229.5 950.9V1106.7M1229.5 1116.9V1281.2M1229.5 1291.9V1403.7M1991.2 789V940.7M1991.2 950.9V1106.7M1991.2 1116.9V1281.2M1991.2 1291.9V1403.7M1229.5 790.3H1991.2M1229.5 1402.4H1991.2" fill="none" stroke="#000" stroke-width="2.6"/>
<path d="M1229.5 806.3h11.8M1991.2 806.3h-11.8M1229.5 856.8h11.8M1991.2 856.8h-11.8M1229.5 907.6h11.8M1991.2 907.6h-11.8M1229.5 984h11.8M1991.2 984h-11.8M1229.5 1034.5h11.8M1991.2 1034.5h-11.8M1229.5 1085.5h11.8M1991.2 1085.5h-11.8M1229.5 1158.5h11.8M1991.2 1158.5h-11.8M1229.5 1212.6h11.8M1991.2 1212.6h-11.8M1229.5 1266.5h11.8M1991.2 1266.5h-11.8M1229.5 1306.4h11.8M1991.2 1306.4h-11.8M1229.5 1342.6h11.8M1991.2 1342.6h-11.8M1229.5 1378.1h11.8M1991.2 1378.1h-11.8M1229.5 831.4h5.7M1991.2 831.4h-5.7M1229.5 882.2h5.7M1991.2 882.2h-5.7M1229.5 931.8h5.7M1991.2 931.8h-5.7M1229.5 959.7h5.7M1991.2 959.7h-5.7M1229.5 1009.4h5.7M1991.2 1009.4h-5.7M1229.5 1060.2h5.7M1991.2 1060.2h-5.7M1229.5 1132h5.7M1991.2 1132h-5.7M1229.5 1185.6h5.7M1991.2 1185.6h-5.7M1229.5 1239.4h5.7M1991.2 1239.4h-5.7M1229.5 1324.5h5.7M1991.2 1324.5h-5.7M1229.5 1360.8h5.7M1991.2 1360.8h-5.7M1229.5 1396.2h5.7M1991.2 1396.2h-5.7M1242.2 1402.4v-5.7M1242.2 790.3v5.7M1267.6 1402.4v-5.7M1267.6 790.3v5.7M1293 1402.4v-11.8M1293 790.3v11.8M1318.4 1402.4v-5.7M1318.4 790.3v5.7M1343.8 1402.4v-5.7M1343.8 790.3v5.7M1369.1 1402.4v-5.7M1369.1 790.3v5.7M1394.5 1402.4v-5.7M1394.5 790.3v5.7M1419.9 1402.4v-11.8M1419.9 790.3v11.8M1445.3 1402.4v-5.7M1445.3 790.3v5.7M1470.7 1402.4v-5.7M1470.7 790.3v5.7M1496.1 1402.4v-5.7M1496.1 790.3v5.7M1521.5 1402.4v-5.7M1521.5 790.3v5.7M1546.9 1402.4v-11.8M1546.9 790.3v11.8M1572.3 1402.4v-5.7M1572.3 790.3v5.7M1597.7 1402.4v-5.7M1597.7 790.3v5.7M1623 1402.4v-5.7M1623 790.3v5.7M1648.4 1402.4v-5.7M1648.4 790.3v5.7M1673.8 1402.4v-11.8M1673.8 790.3v11.8M1699.2 1402.4v-5.7M1699.2 790.3v5.7M1724.6 1402.4v-5.7M1724.6 790.3v5.7M1750 1402.4v-5.7M1750 790.3v5.7M1775.4 1402.4v-5.7M1775.4 790.3v5.7M1800.8 1402.4v-11.8M1800.8 790.3v11.8M1826.2 1402.4v-5.7M1826.2 790.3v5.7M1851.6 1402.4v-5.7M1851.6 790.3v5.7M1876.9 1402.4v-5.7M1876.9 790.3v5.7M1902.3 1402.4v-5.7M1902.3 790.3v5.7M1927.7 1402.4v-11.8M1927.7 790.3v11.8M1953.1 1402.4v-5.7M1953.1 790.3v5.7M1978.5 1402.4v-5.7M1978.5 790.3v5.7M1217.4 946L1241.6 935.4M1979.1 946L2003.3 935.4M1217.4 956.2L1241.6 945.6M1979.1 956.2L2003.3 945.6M1217.4 1112L1241.6 1101.4M1979.1 1112L2003.3 1101.4M1217.4 1122.2L1241.6 1111.6M1979.1 1122.2L2003.3 1111.6M1217.4 1286.5L1241.6 1275.9M1979.1 1286.5L2003.3 1275.9M1217.4 1297.2L1241.6 1286.6M1979.1 1297.2L2003.3 1286.6" fill="none" stroke="#000" stroke-width="2.3"/>
<g clip-path="url(#cd0)">
<polyline points="1293,808.9 1318.4,916.7 1419.9,916.7 1496.1,916.7 1521.5,916.7 1546.9,916.7 1572.3,916.7 1597.7,916.7 1623,916.7 1648.4,916.7 1673.8,916.7 1699.2,916.7 1724.6,916.7 1750,916.7 1775.4,916.7 1800.8,916.7 1826.2,916.7 1851.6,916.7 1876.9,916.7 1902.3,916.7 1927.7,916.7" fill="none" stroke="#0e9040" stroke-width="2"/>
<g fill="#2ba55f" stroke="#0e9040">
<use href="#mg" x="1293" y="808.9"/>
<use href="#mg" x="1318.4" y="916.7"/>
<use href="#mg" x="1419.9" y="916.7"/>
<use href="#mg" x="1496.1" y="916.7"/>
<use href="#mg" x="1521.5" y="916.7"/>
<use href="#mg" x="1546.9" y="916.7"/>
<use href="#mg" x="1572.3" y="916.7"/>
<use href="#mg" x="1597.7" y="916.7"/>
<use href="#mg" x="1623" y="916.7"/>
<use href="#mg" x="1648.4" y="916.7"/>
<use href="#mg" x="1673.8" y="916.7"/>
<use href="#mg" x="1699.2" y="916.7"/>
<use href="#mg" x="1724.6" y="916.7"/>
<use href="#mg" x="1750" y="916.7"/>
<use href="#mg" x="1775.4" y="916.7"/>
<use href="#mg" x="1800.8" y="916.7"/>
<use href="#mg" x="1826.2" y="916.7"/>
<use href="#mg" x="1851.6" y="916.7"/>
<use href="#mg" x="1876.9" y="916.7"/>
<use href="#mg" x="1902.3" y="916.7"/>
<use href="#mg" x="1927.7" y="916.7"/>
</g></g>
<g clip-path="url(#cd1)">
<polyline points="1293,977.8 1318.4,1094.8 1419.9,1094.8 1496.1,1094.8 1521.5,1094.8 1546.9,1094.8 1572.3,1094.8 1597.7,1094.8 1623,1094.8 1648.4,1094.8 1673.8,1094.8 1699.2,1094.8 1724.6,1094.8 1750,1094.8 1775.4,1094.8 1800.8,1094.8 1826.2,1094.8 1851.6,1094.8 1876.9,1094.8 1902.3,1094.8 1927.7,1094.8" fill="none" stroke="#0b40c8" stroke-width="2"/>
<g fill="#1a62dc" stroke="#0b40c8">
<use href="#mb" x="1293" y="977.8"/>
<use href="#mb" x="1318.4" y="1094.8"/>
<use href="#mb" x="1419.9" y="1094.8"/>
<use href="#mb" x="1496.1" y="1094.8"/>
<use href="#mb" x="1521.5" y="1094.8"/>
<use href="#mb" x="1546.9" y="1094.8"/>
<use href="#mb" x="1572.3" y="1094.8"/>
<use href="#mb" x="1597.7" y="1094.8"/>
<use href="#mb" x="1623" y="1094.8"/>
<use href="#mb" x="1648.4" y="1094.8"/>
<use href="#mb" x="1673.8" y="1094.8"/>
<use href="#mb" x="1699.2" y="1094.8"/>
<use href="#mb" x="1724.6" y="1094.8"/>
<use href="#mb" x="1750" y="1094.8"/>
<use href="#mb" x="1775.4" y="1094.8"/>
<use href="#mb" x="1800.8" y="1094.8"/>
<use href="#mb" x="1826.2" y="1094.8"/>
<use href="#mb" x="1851.6" y="1094.8"/>
<use href="#mb" x="1876.9" y="1094.8"/>
<use href="#mb" x="1902.3" y="1094.8"/>
<use href="#mb" x="1927.7" y="1094.8"/>
</g></g>
<g clip-path="url(#cd2)">
<polyline points="1293,1143.7 1318.4,1263.1 1419.9,1263.1 1496.1,1263.1 1521.5,1263.1 1546.9,1263.1 1572.3,1263.1 1597.7,1263.1 1623,1263.1 1648.4,1263.1 1673.8,1263.1 1699.2,1263.1 1724.6,1263.1 1750,1263.1 1775.4,1263.1 1800.8,1263.1 1826.2,1263.1 1851.6,1263.1 1876.9,1263.1 1902.3,1263.1 1927.7,1263.1" fill="none" stroke="#e61414" stroke-width="2"/>
<g fill="#f33a3a" stroke="#e61414">
<use href="#mr" x="1293" y="1143.7"/>
<use href="#mr" x="1318.4" y="1263.1"/>
<use href="#mr" x="1419.9" y="1263.1"/>
<use href="#mr" x="1496.1" y="1263.1"/>
<use href="#mr" x="1521.5" y="1263.1"/>
<use href="#mr" x="1546.9" y="1263.1"/>
<use href="#mr" x="1572.3" y="1263.1"/>
<use href="#mr" x="1597.7" y="1263.1"/>
<use href="#mr" x="1623" y="1263.1"/>
<use href="#mr" x="1648.4" y="1263.1"/>
<use href="#mr" x="1673.8" y="1263.1"/>
<use href="#mr" x="1699.2" y="1263.1"/>
<use href="#mr" x="1724.6" y="1263.1"/>
<use href="#mr" x="1750" y="1263.1"/>
<use href="#mr" x="1775.4" y="1263.1"/>
<use href="#mr" x="1800.8" y="1263.1"/>
<use href="#mr" x="1826.2" y="1263.1"/>
<use href="#mr" x="1851.6" y="1263.1"/>
<use href="#mr" x="1876.9" y="1263.1"/>
<use href="#mr" x="1902.3" y="1263.1"/>
<use href="#mr" x="1927.7" y="1263.1"/>
</g></g>
<g clip-path="url(#cd3)">
<polyline points="1293,1294 1318.4,1376.1 1419.9,1376.1 1496.1,1376.1 1521.5,1376.1 1546.9,1376.1 1572.3,1376.1 1597.7,1376.1 1623,1376.1 1648.4,1376.1 1673.8,1376.1 1699.2,1376.1 1724.6,1376.1 1750,1376.1 1775.4,1376.1 1800.8,1376.1 1826.2,1376.1 1851.6,1376.1 1876.9,1376.1 1902.3,1376.1 1927.7,1376.1" fill="none" stroke="#1c1c1c" stroke-width="2"/>
<g fill="#474747" stroke="#1c1c1c">
<use href="#mk" x="1293" y="1294"/>
<use href="#mk" x="1318.4" y="1376.1"/>
<use href="#mk" x="1419.9" y="1376.1"/>
<use href="#mk" x="1496.1" y="1376.1"/>
<use href="#mk" x="1521.5" y="1376.1"/>
<use href="#mk" x="1546.9" y="1376.1"/>
<use href="#mk" x="1572.3" y="1376.1"/>
<use href="#mk" x="1597.7" y="1376.1"/>
<use href="#mk" x="1623" y="1376.1"/>
<use href="#mk" x="1648.4" y="1376.1"/>
<use href="#mk" x="1673.8" y="1376.1"/>
<use href="#mk" x="1699.2" y="1376.1"/>
<use href="#mk" x="1724.6" y="1376.1"/>
<use href="#mk" x="1750" y="1376.1"/>
<use href="#mk" x="1775.4" y="1376.1"/>
<use href="#mk" x="1800.8" y="1376.1"/>
<use href="#mk" x="1826.2" y="1376.1"/>
<use href="#mk" x="1851.6" y="1376.1"/>
<use href="#mk" x="1876.9" y="1376.1"/>
<use href="#mk" x="1902.3" y="1376.1"/>
<use href="#mk" x="1927.7" y="1376.1"/>
</g></g>
<g font-size="26.51" text-anchor="end">
<text x="1216.7" y="817.1">2.0103x10<tspan font-size="16.73" dy="-11.2">-6</tspan></text>
<text x="1216.7" y="867.6">2.0101x10<tspan font-size="16.73" dy="-11.2">-6</tspan></text>
<text x="1216.7" y="918.4">2.0099x10<tspan font-size="16.73" dy="-11.2">-6</tspan></text>
<text x="1216.7" y="994.8">1.7777x10<tspan font-size="16.73" dy="-11.2">-6</tspan></text>
<text x="1216.7" y="1045.3">1.7775x10<tspan font-size="16.73" dy="-11.2">-6</tspan></text>
<text x="1216.7" y="1096.3">1.7774x10<tspan font-size="16.73" dy="-11.2">-6</tspan></text>
<text x="1216.7" y="1169.3">1.0309x10<tspan font-size="16.73" dy="-11.2">-6</tspan></text>
<text x="1216.7" y="1223.4">1.0307x10<tspan font-size="16.73" dy="-11.2">-6</tspan></text>
<text x="1216.7" y="1277.3">1.0305x10<tspan font-size="16.73" dy="-11.2">-6</tspan></text>
<text x="1216.7" y="1317.2">5.0892x10<tspan font-size="16.73" dy="-11.2">-7</tspan></text>
<text x="1216.7" y="1353.4">5.0880x10<tspan font-size="16.73" dy="-11.2">-7</tspan></text>
<text x="1216.7" y="1388.9">5.0868x10<tspan font-size="16.73" dy="-11.2">-7</tspan></text>
</g>
<g font-size="26.51" text-anchor="middle">
<text x="1293.8" y="1435.9">0</text>
<text x="1420.7" y="1435.9">5</text>
<text x="1547.7" y="1435.9">10</text>
<text x="1674.6" y="1435.9">15</text>
<text x="1801.6" y="1435.9">20</text>
<text x="1928.5" y="1435.9">25</text>
</g>
<text x="1611.3" y="1487.6" font-size="32.26" text-anchor="middle">Thickness of the reflective layer (cm)</text>
<text transform="translate(1077.8 1092.7) rotate(-90) scale(0.950 1)" font-size="32.7" text-anchor="middle">Energy deposition (MeV/g)</text>
<text x="1246.5" y="834.9" font-size="32.9">(d)</text>
<rect x="1694.1" y="934.2" width="213" height="145.3" fill="#fff" stroke="#000" stroke-width="2.2"/>
<g font-size="22.18">
<path d="M1697.5 949.8H1748.7" stroke="#1c1c1c" stroke-width="2.2"/><use href="#mk" x="1722.8" y="949.8" fill="#474747" stroke="#1c1c1c"/>
<text x="1753.6" y="957.7">0.32 MeV</text>
<path d="M1697.5 978.2H1748.7" stroke="#e61414" stroke-width="2.2"/><use href="#mr" x="1722.8" y="978.2" fill="#f33a3a" stroke="#e61414"/>
<text x="1753.6" y="986.1">0.662 MeV</text>
<path d="M1697.5 1006.7H1748.7" stroke="#0b40c8" stroke-width="2.2"/><use href="#mb" x="1722.8" y="1006.7" fill="#1a62dc" stroke="#0b40c8"/>
<text x="1753.6" y="1014.6">1.25 MeV</text>
<path d="M1697.5 1035.1H1748.7" stroke="#0e9040" stroke-width="2.2"/><use href="#mg" x="1722.8" y="1035.1" fill="#2ba55f" stroke="#0e9040"/>
<text x="1753.6" y="1043">1.461 MeV</text>
<text x="1697.9" y="1070.7" font-size="22.6">Tungsten-nickel alloy</text>
</g>
</g>
<g id="panel-e">
<defs>
<clipPath id="ce0"><rect x="187.5" y="1602.3" width="762.7" height="141.6"/></clipPath>
<clipPath id="ce1"><rect x="187.5" y="1756.1" width="762.7" height="141.8"/></clipPath>
<clipPath id="ce2"><rect x="187.5" y="1910.3" width="762.7" height="163.9"/></clipPath>
<clipPath id="ce3"><rect x="187.5" y="2086.5" width="762.7" height="127.2"/></clipPath>
</defs>
<path d="M187.5 1599.9V1745.4M187.5 1755.6V1899.4M187.5 1909.8V2075.7M187.5 2086V2216.1M950.2 1599.9V1745.4M950.2 1755.6V1899.4M950.2 1909.8V2075.7M950.2 2086V2216.1M187.5 1601.2H950.2M187.5 2214.8H950.2" fill="none" stroke="#000" stroke-width="2.6"/>
<path d="M187.5 1629.7h11.8M950.2 1629.7h-11.8M187.5 1676.8h11.8M950.2 1676.8h-11.8M187.5 1724.5h11.8M950.2 1724.5h-11.8M187.5 1789.8h11.8M950.2 1789.8h-11.8M187.5 1837.5h11.8M950.2 1837.5h-11.8M187.5 1885.5h11.8M950.2 1885.5h-11.8M187.5 1954.8h11.8M950.2 1954.8h-11.8M187.5 2009.7h11.8M950.2 2009.7h-11.8M187.5 2065h11.8M950.2 2065h-11.8M187.5 2122.7h11.8M950.2 2122.7h-11.8M187.5 2166.8h11.8M950.2 2166.8h-11.8M187.5 2211.4h11.8M950.2 2211.4h-11.8M187.5 1605.7h5.7M950.2 1605.7h-5.7M187.5 1653.1h5.7M950.2 1653.1h-5.7M187.5 1700.8h5.7M950.2 1700.8h-5.7M187.5 1765.5h5.7M950.2 1765.5h-5.7M187.5 1813.8h5.7M950.2 1813.8h-5.7M187.5 1861.8h5.7M950.2 1861.8h-5.7M187.5 1926.9h5.7M950.2 1926.9h-5.7M187.5 1982.4h5.7M950.2 1982.4h-5.7M187.5 2037.6h5.7M950.2 2037.6h-5.7M187.5 2100.4h5.7M950.2 2100.4h-5.7M187.5 2145h5.7M950.2 2145h-5.7M187.5 2189.7h5.7M950.2 2189.7h-5.7M200.2 2214.8v-5.7M200.2 1601.2v5.7M225.6 2214.8v-5.7M225.6 1601.2v5.7M251.1 2214.8v-11.8M251.1 1601.2v11.8M276.5 2214.8v-5.7M276.5 1601.2v5.7M301.9 2214.8v-5.7M301.9 1601.2v5.7M327.3 2214.8v-5.7M327.3 1601.2v5.7M352.8 2214.8v-5.7M352.8 1601.2v5.7M378.2 2214.8v-11.8M378.2 1601.2v11.8M403.6 2214.8v-5.7M403.6 1601.2v5.7M429 2214.8v-5.7M429 1601.2v5.7M454.4 2214.8v-5.7M454.4 1601.2v5.7M479.9 2214.8v-5.7M479.9 1601.2v5.7M505.3 2214.8v-11.8M505.3 1601.2v11.8M530.7 2214.8v-5.7M530.7 1601.2v5.7M556.1 2214.8v-5.7M556.1 1601.2v5.7M581.6 2214.8v-5.7M581.6 1601.2v5.7M607 2214.8v-5.7M607 1601.2v5.7M632.4 2214.8v-11.8M632.4 1601.2v11.8M657.8 2214.8v-5.7M657.8 1601.2v5.7M683.3 2214.8v-5.7M683.3 1601.2v5.7M708.7 2214.8v-5.7M708.7 1601.2v5.7M734.1 2214.8v-5.7M734.1 1601.2v5.7M759.5 2214.8v-11.8M759.5 1601.2v11.8M784.9 2214.8v-5.7M784.9 1601.2v5.7M810.4 2214.8v-5.7M810.4 1601.2v5.7M835.8 2214.8v-5.7M835.8 1601.2v5.7M861.2 2214.8v-5.7M861.2 1601.2v5.7M886.6 2214.8v-11.8M886.6 1601.2v11.8M912.1 2214.8v-5.7M912.1 1601.2v5.7M937.5 2214.8v-5.7M937.5 1601.2v5.7M175.4 1750.7L199.6 1740.1M938.1 1750.7L962.3 1740.1M175.4 1760.9L199.6 1750.3M938.1 1760.9L962.3 1750.3M175.4 1904.7L199.6 1894.1M938.1 1904.7L962.3 1894.1M175.4 1915.1L199.6 1904.5M938.1 1915.1L962.3 1904.5M175.4 2081L199.6 2070.4M938.1 2081L962.3 2070.4M175.4 2091.3L199.6 2080.7M938.1 2091.3L962.3 2080.7" fill="none" stroke="#000" stroke-width="2.3"/>
<g clip-path="url(#ce0)">
<polyline points="251.1,1731.3 276.5,1690.9 378.2,1621.9 454.4,1615 479.9,1612.2 505.3,1612.2 530.7,1612.2 556.1,1612.2 581.6,1612.2 607,1612.2 632.4,1612.2 657.8,1612.2 683.3,1612.2 708.7,1612.2 734.1,1612.2 759.5,1612.2 784.9,1612.2 810.4,1612.2 835.8,1612.2 861.2,1612.2 886.6,1612.2" fill="none" stroke="#0e9040" stroke-width="2"/>
<g fill="#2ba55f" stroke="#0e9040">
<use href="#mg" x="251.1" y="1731.3"/>
<use href="#mg" x="276.5" y="1690.9"/>
<use href="#mg" x="378.2" y="1621.9"/>
<use href="#mg" x="454.4" y="1615"/>
<use href="#mg" x="479.9" y="1612.2"/>
<use href="#mg" x="505.3" y="1612.2"/>
<use href="#mg" x="530.7" y="1612.2"/>
<use href="#mg" x="556.1" y="1612.2"/>
<use href="#mg" x="581.6" y="1612.2"/>
<use href="#mg" x="607" y="1612.2"/>
<use href="#mg" x="632.4" y="1612.2"/>
<use href="#mg" x="657.8" y="1612.2"/>
<use href="#mg" x="683.3" y="1612.2"/>
<use href="#mg" x="708.7" y="1612.2"/>
<use href="#mg" x="734.1" y="1612.2"/>
<use href="#mg" x="759.5" y="1612.2"/>
<use href="#mg" x="784.9" y="1612.2"/>
<use href="#mg" x="810.4" y="1612.2"/>
<use href="#mg" x="835.8" y="1612.2"/>
<use href="#mg" x="861.2" y="1612.2"/>
<use href="#mg" x="886.6" y="1612.2"/>
</g></g>
<g clip-path="url(#ce1)">
<polyline points="251.1,1889.1 276.5,1848 378.2,1780.3 454.4,1769.1 479.9,1769 505.3,1769 530.7,1769 556.1,1769 581.6,1769 607,1769 632.4,1769 657.8,1769 683.3,1769 708.7,1769 734.1,1769 759.5,1769 784.9,1769 810.4,1769 835.8,1769 861.2,1769 886.6,1769" fill="none" stroke="#0b40c8" stroke-width="2"/>
<g fill="#1a62dc" stroke="#0b40c8">
<use href="#mb" x="251.1" y="1889.1"/>
<use href="#mb" x="276.5" y="1848"/>
<use href="#mb" x="378.2" y="1780.3"/>
<use href="#mb" x="454.4" y="1769.1"/>
<use href="#mb" x="479.9" y="1769"/>
<use href="#mb" x="505.3" y="1769"/>
<use href="#mb" x="530.7" y="1769"/>
<use href="#mb" x="556.1" y="1769"/>
<use href="#mb" x="581.6" y="1769"/>
<use href="#mb" x="607" y="1769"/>
<use href="#mb" x="632.4" y="1769"/>
<use href="#mb" x="657.8" y="1769"/>
<use href="#mb" x="683.3" y="1769"/>
<use href="#mb" x="708.7" y="1769"/>
<use href="#mb" x="734.1" y="1769"/>
<use href="#mb" x="759.5" y="1769"/>
<use href="#mb" x="784.9" y="1769"/>
<use href="#mb" x="810.4" y="1769"/>
<use href="#mb" x="835.8" y="1769"/>
<use href="#mb" x="861.2" y="1769"/>
<use href="#mb" x="886.6" y="1769"/>
</g></g>
<g clip-path="url(#ce2)">
<polyline points="251.1,2054.4 276.5,1999.4 378.2,1926.9 454.4,1920.5 479.9,1921 505.3,1920.5 530.7,1917 556.1,1917 581.6,1917 607,1917 632.4,1917 657.8,1917 683.3,1917 708.7,1917 734.1,1917 759.5,1917 784.9,1917 810.4,1917 835.8,1917 861.2,1917 886.6,1917" fill="none" stroke="#e61414" stroke-width="2"/>
<g fill="#f33a3a" stroke="#e61414">
<use href="#mr" x="251.1" y="2054.4"/>
<use href="#mr" x="276.5" y="1999.4"/>
<use href="#mr" x="378.2" y="1926.9"/>
<use href="#mr" x="454.4" y="1920.5"/>
<use href="#mr" x="479.9" y="1921"/>
<use href="#mr" x="505.3" y="1920.5"/>
<use href="#mr" x="530.7" y="1917"/>
<use href="#mr" x="556.1" y="1917"/>
<use href="#mr" x="581.6" y="1917"/>
<use href="#mr" x="607" y="1917"/>
<use href="#mr" x="632.4" y="1917"/>
<use href="#mr" x="657.8" y="1917"/>
<use href="#mr" x="683.3" y="1917"/>
<use href="#mr" x="708.7" y="1917"/>
<use href="#mr" x="734.1" y="1917"/>
<use href="#mr" x="759.5" y="1917"/>
<use href="#mr" x="784.9" y="1917"/>
<use href="#mr" x="810.4" y="1917"/>
<use href="#mr" x="835.8" y="1917"/>
<use href="#mr" x="861.2" y="1917"/>
<use href="#mr" x="886.6" y="1917"/>
</g></g>
<g clip-path="url(#ce3)">
<polyline points="251.1,2207 276.5,2153.4 378.2,2093.4 454.4,2090.1 479.9,2090 505.3,2090 530.7,2090 556.1,2090 581.6,2090 607,2090 632.4,2090 657.8,2090 683.3,2090 708.7,2090 734.1,2090 759.5,2090 784.9,2090 810.4,2090 835.8,2090 861.2,2090 886.6,2090" fill="none" stroke="#1c1c1c" stroke-width="2"/>
<g fill="#474747" stroke="#1c1c1c">
<use href="#mk" x="251.1" y="2207"/>
<use href="#mk" x="276.5" y="2153.4"/>
<use href="#mk" x="378.2" y="2093.4"/>
<use href="#mk" x="454.4" y="2090.1"/>
<use href="#mk" x="479.9" y="2090"/>
<use href="#mk" x="505.3" y="2090"/>
<use href="#mk" x="530.7" y="2090"/>
<use href="#mk" x="556.1" y="2090"/>
<use href="#mk" x="581.6" y="2090"/>
<use href="#mk" x="607" y="2090"/>
<use href="#mk" x="632.4" y="2090"/>
<use href="#mk" x="657.8" y="2090"/>
<use href="#mk" x="683.3" y="2090"/>
<use href="#mk" x="708.7" y="2090"/>
<use href="#mk" x="734.1" y="2090"/>
<use href="#mk" x="759.5" y="2090"/>
<use href="#mk" x="784.9" y="2090"/>
<use href="#mk" x="810.4" y="2090"/>
<use href="#mk" x="835.8" y="2090"/>
<use href="#mk" x="861.2" y="2090"/>
<use href="#mk" x="886.6" y="2090"/>
</g></g>
<g font-size="26.51" text-anchor="end">
<text x="174.7" y="1640.5">2.0105x10<tspan font-size="16.73" dy="-11.2">-6</tspan></text>
<text x="174.7" y="1687.6">2.0104x10<tspan font-size="16.73" dy="-11.2">-6</tspan></text>
<text x="174.7" y="1735.3">2.0103x10<tspan font-size="16.73" dy="-11.2">-6</tspan></text>
<text x="174.7" y="1800.6">1.7780x10<tspan font-size="16.73" dy="-11.2">-6</tspan></text>
<text x="174.7" y="1848.3">1.7779x10<tspan font-size="16.73" dy="-11.2">-6</tspan></text>
<text x="174.7" y="1896.3">1.7777x10<tspan font-size="16.73" dy="-11.2">-6</tspan></text>
<text x="174.7" y="1965.6">1.0312x10<tspan font-size="16.73" dy="-11.2">-6</tspan></text>
<text x="174.7" y="2020.5">1.0310x10<tspan font-size="16.73" dy="-11.2">-6</tspan></text>
<text x="174.7" y="2075.8">1.0309x10<tspan font-size="16.73" dy="-11.2">-6</tspan></text>
<text x="174.7" y="2133.5">5.0921x10<tspan font-size="16.73" dy="-11.2">-7</tspan></text>
<text x="174.7" y="2177.6">5.0908x10<tspan font-size="16.73" dy="-11.2">-7</tspan></text>
<text x="174.7" y="2222.2">5.0895x10<tspan font-size="16.73" dy="-11.2">-7</tspan></text>
</g>
<g font-size="26.51" text-anchor="middle">
<text x="251.9" y="2248.3">0</text>
<text x="379" y="2248.3">5</text>
<text x="506.1" y="2248.3">10</text>
<text x="633.2" y="2248.3">15</text>
<text x="760.3" y="2248.3">20</text>
<text x="887.4" y="2248.3">25</text>
</g>
<text x="569.9" y="2300" font-size="32.26" text-anchor="middle">Thickness of the reflective layer (cm)</text>
<text transform="translate(35.6 1905.4) rotate(-90) scale(0.957 1)" font-size="32.7" text-anchor="middle">Energy deposition (MeV/g)</text>
<text x="202.3" y="1641.6" font-size="32.9">(e)</text>
<rect x="711.7" y="1778.7" width="151.3" height="131.8" fill="#fff" stroke="#000" stroke-width="2.2"/>
<g font-size="20.44">
<path d="M714.4 1792.8H761.3" stroke="#1c1c1c" stroke-width="2.2"/><use href="#mk" x="737.9" y="1792.8" fill="#474747" stroke="#1c1c1c"/>
<text x="765.5" y="1800.1">0.32 MeV</text>
<path d="M714.4 1819H761.3" stroke="#e61414" stroke-width="2.2"/><use href="#mr" x="737.9" y="1819" fill="#f33a3a" stroke="#e61414"/>
<text x="765.5" y="1826.3">0.662 MeV</text>
<path d="M714.4 1844.7H761.3" stroke="#0b40c8" stroke-width="2.2"/><use href="#mb" x="737.9" y="1844.7" fill="#1a62dc" stroke="#0b40c8"/>
<text x="765.5" y="1852">1.25 MeV</text>
<path d="M714.4 1870.6H761.3" stroke="#0e9040" stroke-width="2.2"/><use href="#mg" x="737.9" y="1870.6" fill="#2ba55f" stroke="#0e9040"/>
<text x="765.5" y="1877.9">1.461 MeV</text>
<text x="714.1" y="1903" font-size="20.44">Concrete</text>
</g>
</g>
<g id="panel-f">
<defs>
<clipPath id="cf0"><rect x="1227.9" y="1602.1" width="763.2" height="140"/></clipPath>
<clipPath id="cf1"><rect x="1227.9" y="1754.3" width="763.2" height="128.5"/></clipPath>
<clipPath id="cf2"><rect x="1227.9" y="1894.8" width="763.2" height="151"/></clipPath>
<clipPath id="cf3"><rect x="1227.9" y="2058.2" width="763.2" height="154.7"/></clipPath>
</defs>
<path d="M1227.9 1599.7V1743.6M1227.9 1753.8V1884.3M1227.9 1894.3V2047.3M1227.9 2057.7V2215.3M1991.1 1599.7V1743.6M1991.1 1753.8V1884.3M1991.1 1894.3V2047.3M1991.1 2057.7V2215.3M1227.9 1601H1991.1M1227.9 2214H1991.1" fill="none" stroke="#000" stroke-width="2.6"/>
<path d="M1227.9 1622.4h11.8M1991.1 1622.4h-11.8M1227.9 1669.3h11.8M1991.1 1669.3h-11.8M1227.9 1716.2h11.8M1991.1 1716.2h-11.8M1227.9 1761.9h11.8M1991.1 1761.9h-11.8M1227.9 1804h11.8M1991.1 1804h-11.8M1227.9 1847.3h11.8M1991.1 1847.3h-11.8M1227.9 1934.9h11.8M1991.1 1934.9h-11.8M1227.9 1986h11.8M1991.1 1986h-11.8M1227.9 2037.6h11.8M1991.1 2037.6h-11.8M1227.9 2106h11.8M1991.1 2106h-11.8M1227.9 2158.2h11.8M1991.1 2158.2h-11.8M1227.9 2211.4h11.8M1991.1 2211.4h-11.8M1227.9 1645.6h5.7M1991.1 1645.6h-5.7M1227.9 1693h5.7M1991.1 1693h-5.7M1227.9 1782.8h5.7M1991.1 1782.8h-5.7M1227.9 1825.5h5.7M1991.1 1825.5h-5.7M1227.9 1869.3h5.7M1991.1 1869.3h-5.7M1227.9 1909.3h5.7M1991.1 1909.3h-5.7M1227.9 1960.3h5.7M1991.1 1960.3h-5.7M1227.9 2011.7h5.7M1991.1 2011.7h-5.7M1227.9 2080h5.7M1991.1 2080h-5.7M1227.9 2132.5h5.7M1991.1 2132.5h-5.7M1227.9 2184.7h5.7M1991.1 2184.7h-5.7M1240.6 2214v-5.7M1240.6 1601v5.7M1266.1 2214v-5.7M1266.1 1601v5.7M1291.5 2214v-11.8M1291.5 1601v11.8M1316.9 2214v-5.7M1316.9 1601v5.7M1342.4 2214v-5.7M1342.4 1601v5.7M1367.8 2214v-5.7M1367.8 1601v5.7M1393.3 2214v-5.7M1393.3 1601v5.7M1418.7 2214v-11.8M1418.7 1601v11.8M1444.1 2214v-5.7M1444.1 1601v5.7M1469.6 2214v-5.7M1469.6 1601v5.7M1495 2214v-5.7M1495 1601v5.7M1520.5 2214v-5.7M1520.5 1601v5.7M1545.9 2214v-11.8M1545.9 1601v11.8M1571.3 2214v-5.7M1571.3 1601v5.7M1596.8 2214v-5.7M1596.8 1601v5.7M1622.2 2214v-5.7M1622.2 1601v5.7M1647.7 2214v-5.7M1647.7 1601v5.7M1673.1 2214v-11.8M1673.1 1601v11.8M1698.5 2214v-5.7M1698.5 1601v5.7M1724 2214v-5.7M1724 1601v5.7M1749.4 2214v-5.7M1749.4 1601v5.7M1774.9 2214v-5.7M1774.9 1601v5.7M1800.3 2214v-11.8M1800.3 1601v11.8M1825.7 2214v-5.7M1825.7 1601v5.7M1851.2 2214v-5.7M1851.2 1601v5.7M1876.6 2214v-5.7M1876.6 1601v5.7M1902.1 2214v-5.7M1902.1 1601v5.7M1927.5 2214v-11.8M1927.5 1601v11.8M1952.9 2214v-5.7M1952.9 1601v5.7M1978.4 2214v-5.7M1978.4 1601v5.7M1215.8 1748.9L1240 1738.3M1979 1748.9L2003.2 1738.3M1215.8 1759.1L1240 1748.5M1979 1759.1L2003.2 1748.5M1215.8 1889.6L1240 1879M1979 1889.6L2003.2 1879M1215.8 1899.6L1240 1889M1979 1899.6L2003.2 1889M1215.8 2052.6L1240 2042M1979 2052.6L2003.2 2042M1215.8 2063L1240 2052.4M1979 2063L2003.2 2052.4" fill="none" stroke="#000" stroke-width="2.3"/>
<g clip-path="url(#cf0)">
<polyline points="1291.5,1737.7 1316.9,1722.9 1418.7,1675.8 1495,1651.3 1520.5,1647.2 1545.9,1641.7 1571.3,1639 1596.8,1636.6 1622.2,1634.9 1647.7,1633.2 1673.1,1632.2 1698.5,1630.5 1724,1628.8 1749.4,1627.8 1774.9,1626.1 1800.3,1626.1 1825.7,1626.1 1851.2,1626 1876.6,1624.8 1902.1,1624.8 1927.5,1624.8" fill="none" stroke="#0e9040" stroke-width="2"/>
<g fill="#2ba55f" stroke="#0e9040">
<use href="#mg" x="1291.5" y="1737.7"/>
<use href="#mg" x="1316.9" y="1722.9"/>
<use href="#mg" x="1418.7" y="1675.8"/>
<use href="#mg" x="1495" y="1651.3"/>
<use href="#mg" x="1520.5" y="1647.2"/>
<use href="#mg" x="1545.9" y="1641.7"/>
<use href="#mg" x="1571.3" y="1639"/>
<use href="#mg" x="1596.8" y="1636.6"/>
<use href="#mg" x="1622.2" y="1634.9"/>
<use href="#mg" x="1647.7" y="1633.2"/>
<use href="#mg" x="1673.1" y="1632.2"/>
<use href="#mg" x="1698.5" y="1630.5"/>
<use href="#mg" x="1724" y="1628.8"/>
<use href="#mg" x="1749.4" y="1627.8"/>
<use href="#mg" x="1774.9" y="1626.1"/>
<use href="#mg" x="1800.3" y="1626.1"/>
<use href="#mg" x="1825.7" y="1626.1"/>
<use href="#mg" x="1851.2" y="1626"/>
<use href="#mg" x="1876.6" y="1624.8"/>
<use href="#mg" x="1902.1" y="1624.8"/>
<use href="#mg" x="1927.5" y="1624.8"/>
</g></g>
<g clip-path="url(#cf1)">
<polyline points="1291.5,1876.5 1316.9,1860.3 1418.7,1809.7 1495,1785.6 1520.5,1781.7 1545.9,1776.7 1571.3,1772.3 1596.8,1769.3 1622.2,1766.6 1647.7,1763.9 1673.1,1762.5 1698.5,1762.2 1724,1761.5 1749.4,1760.5 1774.9,1758.8 1800.3,1758.8 1825.7,1758.8 1851.2,1758.8 1876.6,1758.8 1902.1,1758.8 1927.5,1758.8" fill="none" stroke="#0b40c8" stroke-width="2"/>
<g fill="#1a62dc" stroke="#0b40c8">
<use href="#mb" x="1291.5" y="1876.5"/>
<use href="#mb" x="1316.9" y="1860.3"/>
<use href="#mb" x="1418.7" y="1809.7"/>
<use href="#mb" x="1495" y="1785.6"/>
<use href="#mb" x="1520.5" y="1781.7"/>
<use href="#mb" x="1545.9" y="1776.7"/>
<use href="#mb" x="1571.3" y="1772.3"/>
<use href="#mb" x="1596.8" y="1769.3"/>
<use href="#mb" x="1622.2" y="1766.6"/>
<use href="#mb" x="1647.7" y="1763.9"/>
<use href="#mb" x="1673.1" y="1762.5"/>
<use href="#mb" x="1698.5" y="1762.2"/>
<use href="#mb" x="1724" y="1761.5"/>
<use href="#mb" x="1749.4" y="1760.5"/>
<use href="#mb" x="1774.9" y="1758.8"/>
<use href="#mb" x="1800.3" y="1758.8"/>
<use href="#mb" x="1825.7" y="1758.8"/>
<use href="#mb" x="1851.2" y="1758.8"/>
<use href="#mb" x="1876.6" y="1758.8"/>
<use href="#mb" x="1902.1" y="1758.8"/>
<use href="#mb" x="1927.5" y="1758.8"/>
</g></g>
<g clip-path="url(#cf2)">
<polyline points="1291.5,2041.4 1316.9,2024 1418.7,1959.8 1495,1929.7 1520.5,1923 1545.9,1918.1 1571.3,1914.1 1596.8,1910.8 1622.2,1908.3 1647.7,1906.6 1673.1,1904.7 1698.5,1903.2 1724,1902.2 1749.4,1901.2 1774.9,1900.6 1800.3,1899.9 1825.7,1899.9 1851.2,1899.9 1876.6,1899.9 1902.1,1899.9 1927.5,1899.9" fill="none" stroke="#e61414" stroke-width="2"/>
<g fill="#f33a3a" stroke="#e61414">
<use href="#mr" x="1291.5" y="2041.4"/>
<use href="#mr" x="1316.9" y="2024"/>
<use href="#mr" x="1418.7" y="1959.8"/>
<use href="#mr" x="1495" y="1929.7"/>
<use href="#mr" x="1520.5" y="1923"/>
<use href="#mr" x="1545.9" y="1918.1"/>
<use href="#mr" x="1571.3" y="1914.1"/>
<use href="#mr" x="1596.8" y="1910.8"/>
<use href="#mr" x="1622.2" y="1908.3"/>
<use href="#mr" x="1647.7" y="1906.6"/>
<use href="#mr" x="1673.1" y="1904.7"/>
<use href="#mr" x="1698.5" y="1903.2"/>
<use href="#mr" x="1724" y="1902.2"/>
<use href="#mr" x="1749.4" y="1901.2"/>
<use href="#mr" x="1774.9" y="1900.6"/>
<use href="#mr" x="1800.3" y="1899.9"/>
<use href="#mr" x="1825.7" y="1899.9"/>
<use href="#mr" x="1851.2" y="1899.9"/>
<use href="#mr" x="1876.6" y="1899.9"/>
<use href="#mr" x="1902.1" y="1899.9"/>
<use href="#mr" x="1927.5" y="1899.9"/>
</g></g>
<g clip-path="url(#cf3)">
<polyline points="1291.5,2209.2 1316.9,2187.5 1418.7,2117.1 1495,2087 1520.5,2081.1 1545.9,2075.5 1571.3,2071.6 1596.8,2068.5 1622.2,2066.2 1647.7,2064.6 1673.1,2063.1 1698.5,2061.6 1724,2060.8 1749.4,2060.5 1774.9,2059.6 1800.3,2059.1 1825.7,2058.6 1851.2,2058.3 1876.6,2058 1902.1,2058 1927.5,2058" fill="none" stroke="#1c1c1c" stroke-width="2"/>
<g fill="#474747" stroke="#1c1c1c">
<use href="#mk" x="1291.5" y="2209.2"/>
<use href="#mk" x="1316.9" y="2187.5"/>
<use href="#mk" x="1418.7" y="2117.1"/>
<use href="#mk" x="1495" y="2087"/>
<use href="#mk" x="1520.5" y="2081.1"/>
<use href="#mk" x="1545.9" y="2075.5"/>
<use href="#mk" x="1571.3" y="2071.6"/>
<use href="#mk" x="1596.8" y="2068.5"/>
<use href="#mk" x="1622.2" y="2066.2"/>
<use href="#mk" x="1647.7" y="2064.6"/>
<use href="#mk" x="1673.1" y="2063.1"/>
<use href="#mk" x="1698.5" y="2061.6"/>
<use href="#mk" x="1724" y="2060.8"/>
<use href="#mk" x="1749.4" y="2060.5"/>
<use href="#mk" x="1774.9" y="2059.6"/>
<use href="#mk" x="1800.3" y="2059.1"/>
<use href="#mk" x="1825.7" y="2058.6"/>
<use href="#mk" x="1851.2" y="2058.3"/>
<use href="#mk" x="1876.6" y="2058"/>
<use href="#mk" x="1902.1" y="2058"/>
<use href="#mk" x="1927.5" y="2058"/>
</g></g>
<g font-size="26.51" text-anchor="end">
<text x="1215.1" y="1633.2">2.0111x10<tspan font-size="16.73" dy="-11.2">-6</tspan></text>
<text x="1215.1" y="1680.1">2.0108x10<tspan font-size="16.73" dy="-11.2">-6</tspan></text>
<text x="1215.1" y="1727">2.0104x10<tspan font-size="16.73" dy="-11.2">-6</tspan></text>
<text x="1215.1" y="1772.7">1.7786x10<tspan font-size="16.73" dy="-11.2">-6</tspan></text>
<text x="1215.1" y="1814.8">1.7782x10<tspan font-size="16.73" dy="-11.2">-6</tspan></text>
<text x="1215.1" y="1858.1">1.7779x10<tspan font-size="16.73" dy="-11.2">-6</tspan></text>
<text x="1215.1" y="1945.7">1.0317x10<tspan font-size="16.73" dy="-11.2">-6</tspan></text>
<text x="1215.1" y="1996.8">1.0313x10<tspan font-size="16.73" dy="-11.2">-6</tspan></text>
<text x="1215.1" y="2048.4">1.0309x10<tspan font-size="16.73" dy="-11.2">-6</tspan></text>
<text x="1215.1" y="2116.8">5.0973x10<tspan font-size="16.73" dy="-11.2">-7</tspan></text>
<text x="1215.1" y="2169">5.0934x10<tspan font-size="16.73" dy="-11.2">-7</tspan></text>
<text x="1215.1" y="2222.2">5.0895x10<tspan font-size="16.73" dy="-11.2">-7</tspan></text>
</g>
<g font-size="26.51" text-anchor="middle">
<text x="1292.3" y="2247.5">0</text>
<text x="1419.5" y="2247.5">5</text>
<text x="1546.7" y="2247.5">10</text>
<text x="1673.9" y="2247.5">15</text>
<text x="1801.1" y="2247.5">20</text>
<text x="1928.3" y="2247.5">25</text>
</g>
<text x="1610.5" y="2299.2" font-size="32.26" text-anchor="middle">Thickness of the reflective layer (cm)</text>
<text transform="translate(1077.2 1905.7) rotate(-90) scale(0.958 1)" font-size="32.7" text-anchor="middle">Energy deposition (MeV/g)</text>
<text x="1253.2" y="1641.6" font-size="32.9">(f)</text>
<rect x="1754" y="1910.5" width="155.8" height="135.5" fill="#fff" stroke="#000" stroke-width="2.2"/>
<g font-size="20.95">
<path d="M1757.4 1924.7H1804.8" stroke="#1c1c1c" stroke-width="2.2"/><use href="#mk" x="1780.4" y="1924.7" fill="#474747" stroke="#1c1c1c"/>
<text x="1809.8" y="1932.1">0.32 MeV</text>
<path d="M1757.4 1951.8H1804.8" stroke="#e61414" stroke-width="2.2"/><use href="#mr" x="1780.4" y="1951.8" fill="#f33a3a" stroke="#e61414"/>
<text x="1809.8" y="1959.2">0.662 MeV</text>
<path d="M1757.4 1978.2H1804.8" stroke="#0b40c8" stroke-width="2.2"/><use href="#mb" x="1780.4" y="1978.2" fill="#1a62dc" stroke="#0b40c8"/>
<text x="1809.8" y="1985.6">1.25 MeV</text>
<path d="M1757.4 2005.3H1804.8" stroke="#0e9040" stroke-width="2.2"/><use href="#mg" x="1780.4" y="2005.3" fill="#2ba55f" stroke="#0e9040"/>
<text x="1809.8" y="2012.7">1.461 MeV</text>
<text x="1757" y="2038.5" font-size="20.95">Water</text>
</g>
</g>
</svg>
</body></html>
